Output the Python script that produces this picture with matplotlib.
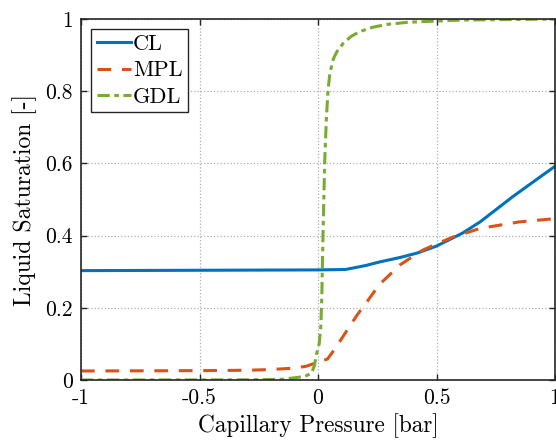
import matplotlib
matplotlib.use("Agg")
import matplotlib.pyplot as plt

plt.rcParams['font.family'] = 'serif'
plt.rcParams['font.serif'] = ['cmr10']
plt.rcParams['mathtext.fontset'] = 'cm'
plt.rcParams['axes.unicode_minus'] = False

# saturation curves per layer
cl_x = [-1, -0.5, 0, 0.1, 0.115, 0.2, 0.26, 0.35, 0.42, 0.5, 0.61, 0.684, 0.82, 0.9, 1.0]
cl_y = [0.303, 0.304, 0.305, 0.306, 0.306, 0.317, 0.327, 0.340, 0.352, 0.371, 0.407, 0.438, 0.507, 0.545, 0.592]

mpl_x = [-1, -0.5, -0.3, -0.2, -0.1, -0.05, -0.02, 0, 0.04, 0.07, 0.105, 0.165, 0.21, 0.26, 0.346, 0.443, 0.5,
         0.57, 0.684, 0.85, 1.0]
mpl_y = [0.025, 0.026, 0.027, 0.029, 0.033, 0.038, 0.045, 0.05, 0.058, 0.085, 0.12, 0.18, 0.22, 0.265, 0.319, 0.36,
         0.377, 0.396, 0.42, 0.438, 0.447]

gdl_x = [-1, -0.3, -0.15, -0.077, -0.05, -0.028, -0.015, -0.007, 0.005, 0.012, 0.016, 0.021, 0.028, 0.035, 0.042,
         0.05, 0.065, 0.08, 0.107, 0.14, 0.176, 0.23, 0.29, 0.38, 0.485, 0.6, 1.0]
gdl_y = [0, 0.0005, 0.002, 0.008, 0.012, 0.018, 0.04, 0.07, 0.1, 0.15, 0.23, 0.4, 0.6, 0.72, 0.8, 0.85, 0.89, 0.91,
         0.933, 0.952, 0.965, 0.977, 0.985, 0.991, 0.994, 0.997, 1.0]

xticks = [-1, -0.5, 0, 0.5, 1]
xtick_labels = ['-1', '-0.5', '0', '0.5', '1']
yticks = [0, 0.2, 0.4, 0.6, 0.8, 1]
ytick_labels = ['0', '0.2', '0.4', '0.6', '0.8', '1']

fig = plt.figure(figsize=(5.56, 4.41), dpi=100)
ax = fig.add_axes([0.1457, 0.1383, 0.8525, 0.8186])

ax.plot(cl_x, cl_y, '-', color='#0072BD', lw=2.2, label='CL')
ax.plot(mpl_x, mpl_y, '--', color='#D95319', lw=2.2, label='MPL', dashes=(4.5, 3.5))
ax.plot(gdl_x, gdl_y, '-.', color='#77AC30', lw=2.2, label='GDL', dashes=(4, 1.5, 1.5, 1.5))

ax.set_xlim(-1, 1)
ax.set_ylim(0, 1)
ax.set_xticks(xticks)
ax.set_xticklabels(xtick_labels)
ax.set_yticks(yticks)
ax.set_yticklabels(ytick_labels)
ax.tick_params(direction='in', top=True, right=True, labelsize=15.5, length=4, width=1, color='#262626', pad=6)
for s in ax.spines.values():
    s.set_linewidth(1.2)
    s.set_color('#262626')
ax.grid(True, linestyle=':', color='#b0b0b0', lw=0.9)

ax.set_xlabel('Capillary Pressure [bar]', fontsize=16.8, labelpad=4)
ax.set_ylabel('Liquid Saturation [-]', fontsize=17, labelpad=6)

leg = ax.legend(loc='upper left', fontsize=16, fancybox=False, framealpha=1, edgecolor='#262626',
                handlelength=1.55, handletextpad=0.1, borderpad=0.25, labelspacing=0.3,
                borderaxespad=0.45)
leg.get_frame().set_linewidth(1.0)

fig.savefig('out.png', dpi=100)
